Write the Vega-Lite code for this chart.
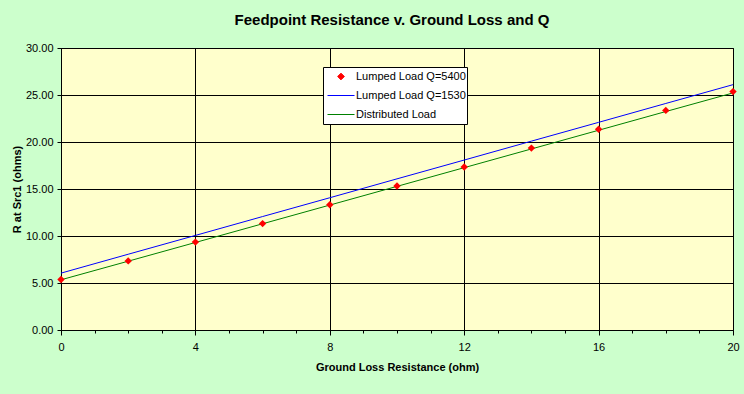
{
  "$schema": "https://vega.github.io/schema/vega-lite/v6.json",
  "width": 672,
  "height": 282,
  "autosize": {"type": "none"},
  "padding": {"left": 61, "top": 48, "right": 11, "bottom": 64},
  "background": "#CCFFCC",
  "title": {
    "text": "Feedpoint Resistance v. Ground Loss and Q",
    "font": "Liberation Sans",
    "fontSize": 15,
    "fontWeight": "bold",
    "color": "black",
    "anchor": "middle",
    "dx": -5,
    "offset": 14
  },
  "config": {
    "view": {"stroke": "black", "strokeWidth": 1, "fill": "#FFFFCC"},
    "axis": {
      "domainColor": "black",
      "tickColor": "black",
      "gridColor": "black",
      "gridWidth": 1,
      "labelFont": "Liberation Sans",
      "labelFontSize": 11,
      "labelColor": "black",
      "titleFont": "Liberation Sans",
      "titleFontSize": 11,
      "titleFontWeight": "bold",
      "titleColor": "black"
    },
    "legend": {
      "labelFont": "Liberation Sans",
      "labelFontSize": 11,
      "labelColor": "black"
    }
  },
  "data": {
    "values": [
      {"x": 0, "r": 5.38, "series": "Lumped Load Q=5400"},
      {"x": 2, "r": 7.35, "series": "Lumped Load Q=5400"},
      {"x": 4, "r": 9.35, "series": "Lumped Load Q=5400"},
      {"x": 6, "r": 11.32, "series": "Lumped Load Q=5400"},
      {"x": 8, "r": 13.32, "series": "Lumped Load Q=5400"},
      {"x": 10, "r": 15.32, "series": "Lumped Load Q=5400"},
      {"x": 12, "r": 17.34, "series": "Lumped Load Q=5400"},
      {"x": 14, "r": 19.35, "series": "Lumped Load Q=5400"},
      {"x": 16, "r": 21.35, "series": "Lumped Load Q=5400"},
      {"x": 18, "r": 23.36, "series": "Lumped Load Q=5400"},
      {"x": 20, "r": 25.36, "series": "Lumped Load Q=5400"},
      {"x": 0, "r": 6.05, "series": "Lumped Load Q=1530"},
      {"x": 2, "r": 8.06, "series": "Lumped Load Q=1530"},
      {"x": 4, "r": 10.06, "series": "Lumped Load Q=1530"},
      {"x": 6, "r": 12.07, "series": "Lumped Load Q=1530"},
      {"x": 8, "r": 14.07, "series": "Lumped Load Q=1530"},
      {"x": 10, "r": 16.08, "series": "Lumped Load Q=1530"},
      {"x": 12, "r": 18.08, "series": "Lumped Load Q=1530"},
      {"x": 14, "r": 20.09, "series": "Lumped Load Q=1530"},
      {"x": 16, "r": 22.09, "series": "Lumped Load Q=1530"},
      {"x": 18, "r": 24.1, "series": "Lumped Load Q=1530"},
      {"x": 20, "r": 26.1, "series": "Lumped Load Q=1530"},
      {"x": 0, "r": 5.34, "series": "Distributed Load"},
      {"x": 2, "r": 7.32, "series": "Distributed Load"},
      {"x": 4, "r": 9.31, "series": "Distributed Load"},
      {"x": 6, "r": 11.3, "series": "Distributed Load"},
      {"x": 8, "r": 13.29, "series": "Distributed Load"},
      {"x": 10, "r": 15.28, "series": "Distributed Load"},
      {"x": 12, "r": 17.27, "series": "Distributed Load"},
      {"x": 14, "r": 19.26, "series": "Distributed Load"},
      {"x": 16, "r": 21.25, "series": "Distributed Load"},
      {"x": 18, "r": 23.24, "series": "Distributed Load"},
      {"x": 20, "r": 25.22, "series": "Distributed Load"}
    ]
  },
  "encoding": {
    "x": {
      "field": "x",
      "type": "quantitative",
      "scale": {"domain": [0, 20], "nice": false, "zero": false},
      "axis": {
        "title": "Ground Loss Resistance (ohm)",
        "values": [0,1,2,3,4,5,6,7,8,9,10,11,12,13,14,15,16,17,18,19,20],
        "labelExpr": "datum.value % 4 === 0 ? datum.label : ''",
        "grid": true,
        "gridOpacity": {"condition": {"test": "datum.value % 4 === 0", "value": 1}, "value": 0},
        "tickSize": {"condition": {"test": "datum.value % 4 === 0", "value": 5}, "value": 3},
        "labelPadding": 6,
        "titlePadding": 9,
        "labelFlush": false
      }
    },
    "y": {
      "field": "r",
      "type": "quantitative",
      "scale": {"domain": [0, 30], "nice": false},
      "axis": {
        "title": "R at Src1 (ohms)",
        "values": [0, 5, 10, 15, 20, 25, 30],
        "format": ".2f",
        "grid": true,
        "tickSize": 4,
        "labelPadding": 4,
        "titlePadding": 3
      }
    }
  },
  "layer": [
    {
      "transform": [{"filter": "datum.series === 'Lumped Load Q=1530'"}],
      "mark": {"type": "line", "strokeWidth": 1},
      "encoding": {
        "color": {
          "field": "series",
          "type": "nominal",
          "scale": {
            "domain": ["Lumped Load Q=5400", "Lumped Load Q=1530", "Distributed Load"],
            "range": ["#FF0000", "#0000FF", "#008000"]
          },
          "legend": {
            "title": null,
            "orient": "none",
            "legendX": 262,
            "legendY": 19,
            "fillColor": "white",
            "strokeColor": "black",
            "padding": 1,
            "symbolSize": 729,
            "symbolType": "stroke",
            "symbolOffset": 3,
            "clipHeight": 17,
            "rowPadding": 2,
            "labelOffset": 1,
            "labelExpr": "datum.label + '\u00a0\u00a0'",
            "encode": {
              "symbols": {
                "update": {
                  "shape": {"signal": "datum.value === 'Lumped Load Q=5400' ? 'diamond' : 'stroke'"},
                  "fill": {"signal": "datum.value === 'Lumped Load Q=5400' ? '#FF0000' : 'transparent'"},
                  "stroke": {"scale": "color", "field": "value"},
                  "strokeWidth": {"value": 1},
                  "size": {"signal": "datum.value === 'Lumped Load Q=5400' ? 45 : 729"},
                  "opacity": {"value": 1}
                }
              }
            }
          }
        }
      }
    },
    {
      "transform": [{"filter": "datum.series === 'Distributed Load'"}],
      "mark": {"type": "line", "strokeWidth": 1},
      "encoding": {
        "color": {"field": "series", "type": "nominal"}
      }
    },
    {
      "transform": [{"filter": "datum.series === 'Lumped Load Q=5400'"}],
      "mark": {"type": "point", "filled": true, "size": 55, "opacity": 1, "shape": "diamond"},
      "encoding": {
        "color": {"field": "series", "type": "nominal"}
      }
    }
  ]
}
